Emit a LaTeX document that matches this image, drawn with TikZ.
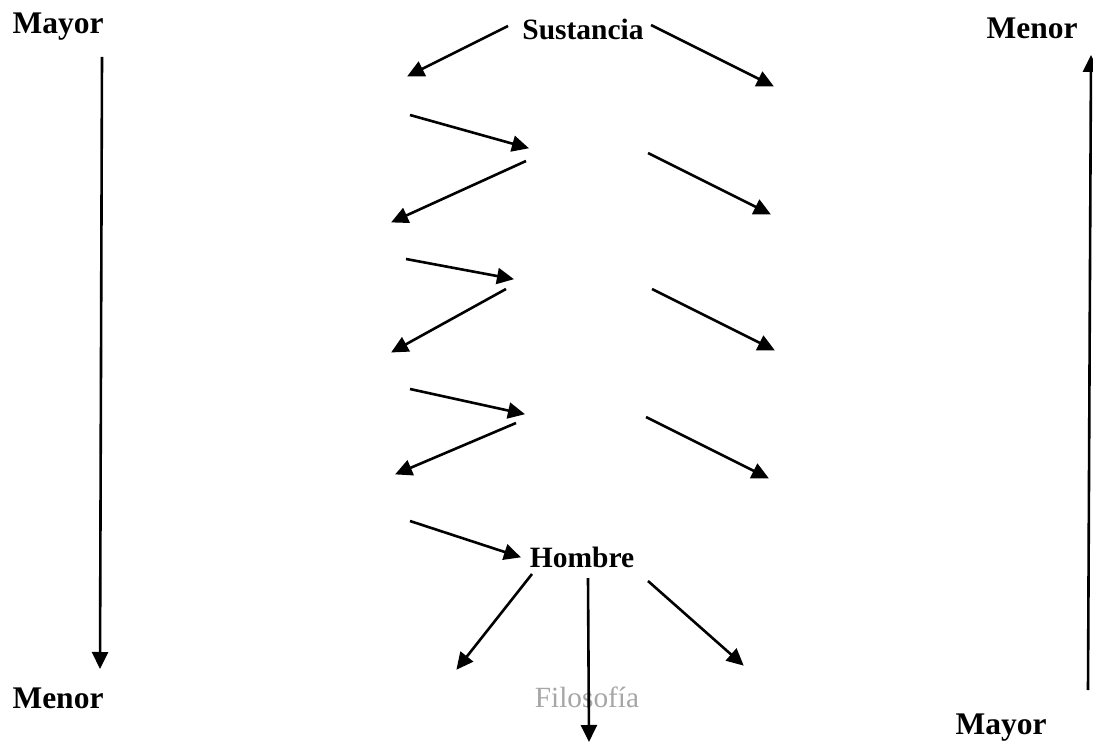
\documentclass[tikz,border=0pt]{standalone}
\usepackage{fontspec}
\setmainfont{Liberation Serif}
\usetikzlibrary{arrows.meta}
\definecolor{watermark}{HTML}{A6A6A6}
\tikzset{
  lbl/.style={inner sep=0pt, font=\fontsize{29.5}{35}\selectfont\bfseries},
  side/.style={inner sep=0pt, font=\fontsize{31.5}{37}\selectfont\bfseries},
  wm/.style={inner sep=0pt, text=watermark, font=\fontsize{29.3}{35}\selectfont},
  arr/.style={line width=2.6pt, -{Triangle[length=17pt,width=16pt]}, shorten >=-1pt}
}
\begin{document}
\begin{tikzpicture}[x=1pt,y=-1pt]
\useasboundingbox (0,0) rectangle (1093,743);
% labels
\node[side] (mayorL) at (58,27) {Mayor};
\node[side] (menorL) at (58,698) {Menor};
\node[side] (menorR) at (1032,28) {Menor};
\node[side] (mayorR) at (1001,728) {Mayor};
\node[lbl] (sust) at (583,29) {Sustancia};
\node[lbl] (hombre) at (582,557) {Hombre};
\node[wm] (filo) at (587,697) {Filosofía};
% coordinates
\coordinate (lvs) at (102,57);  \coordinate (lve) at (100,668);
\coordinate (rvs) at (1088,690); \coordinate (rve) at (1091,56);
\coordinate (a1s) at (508,26);  \coordinate (a1e) at (408,76);
\coordinate (a2s) at (651,25);  \coordinate (a2e) at (773,86);
\coordinate (a3s) at (410,115); \coordinate (a3e) at (528,148);
\coordinate (a4s) at (526,161); \coordinate (a4e) at (392,222);
\coordinate (a5s) at (648,153); \coordinate (a5e) at (770,214);
\coordinate (a6s) at (406,259); \coordinate (a6e) at (513,279);
\coordinate (a7s) at (506,289); \coordinate (a7e) at (392,352);
\coordinate (a8s) at (652,289); \coordinate (a8e) at (774,350);
\coordinate (a9s) at (410,389); \coordinate (a9e) at (524,414);
\coordinate (a10s) at (516,423); \coordinate (a10e) at (396,474);
\coordinate (a11s) at (646,417); \coordinate (a11e) at (768,478);
\coordinate (a12s) at (410,521); \coordinate (a12e) at (520,557);
\coordinate (a13s) at (532,574); \coordinate (a13e) at (457,669);
\coordinate (a14s) at (588,578); \coordinate (a14e) at (589,741);
\coordinate (a15s) at (648,581); \coordinate (a15e) at (743,665);
% arrows
\draw[arr] (lvs) -- (lve);
\draw[arr] (rvs) -- (rve);
\foreach \i in {1,...,15} {\draw[arr] (a\i s) -- (a\i e);}
\end{tikzpicture}
\end{document}
